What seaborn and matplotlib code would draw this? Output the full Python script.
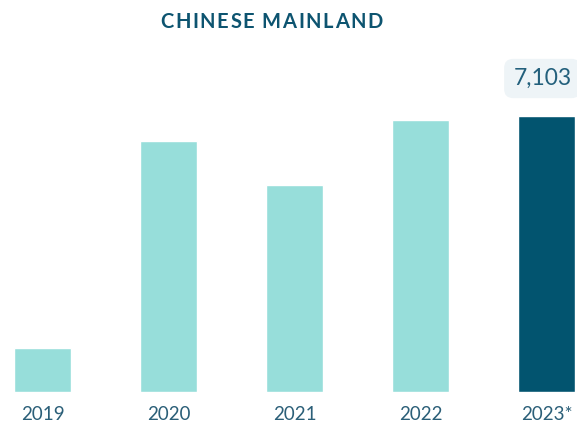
import matplotlib
matplotlib.use("Agg")
import matplotlib.pyplot as plt
import seaborn as sns
import pandas as pd

years = ["2019", "2020", "2021", "2022", "2023*"]
values = [1132, 6460, 5327, 7000, 7103]
bar_colors = ["#97DEDA", "#97DEDA", "#97DEDA", "#97DEDA", "#02546F"]
highlight_label = "7,103"
title = "CHINESE MAINLAND"

sns.set_theme(style="white")
plt.rcParams["font.family"] = ["Lato", "DejaVu Sans"]

W, H = 577, 424
fig = plt.figure(figsize=(W / 100, H / 100), dpi=100)
# axes span from the left edge of the first bar to the right edge of the last
ax = fig.add_axes([14 / W, (H - 392) / H, 561 / W, (392 - 60) / H])

df = pd.DataFrame({"year": years, "value": values})
sns.barplot(data=df, x="year", y="value", hue="year", palette=bar_colors,
            legend=False, width=0.452, saturation=1, ax=ax)

half = 0.452 / 2
ax.set_xlim(-half, len(years) - 1 + half)
px_per_unit = 276 / values[-1]
ax.set_ylim(0, 332 / px_per_unit)

for s in ax.spines.values():
    s.set_visible(False)
ax.set_xlabel("")
ax.set_ylabel("")
ax.set_yticks([])
ax.tick_params(axis="x", length=0, pad=10, labelsize=13.5, labelcolor="#2B5F78")

# value callout over the last bar
ax.annotate(highlight_label, xy=(len(years) - 1, values[-1]), xytext=(-3, 27),
            textcoords="offset points", ha="center", va="center",
            fontsize=16.5, color="#23607C",
            bbox=dict(boxstyle="round,pad=0.4,rounding_size=0.4",
                      fc="#EEF4F7", ec="none"),
            annotation_clip=False)

# title with letter tracking: place each glyph individually
renderer = fig.canvas.get_renderer()
title_kw = dict(fontsize=14.5, fontweight="bold", color="#0D5470", va="center")
glyphs = []
for ch in title:
    t = fig.text(0, 0, ch if ch != " " else "\u00a0", ha="left", **title_kw)
    glyphs.append(t)
widths = []
for ch, t in zip(title, glyphs):
    w = t.get_window_extent(renderer).width
    widths.append(w if ch != " " else 4.0)
target_w = 223.0
track = (target_w - sum(widths)) / (len(title) - 1)
x = 160.0
y = 1 - 22 / H
for t, w in zip(glyphs, widths):
    t.set_position((x / W, y))
    x += w + track

fig.savefig("out.png", dpi=100)
